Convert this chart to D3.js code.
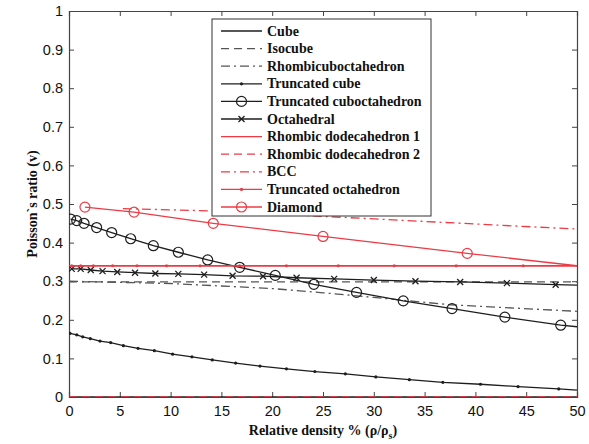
<!DOCTYPE html>
<html><head><meta charset="utf-8">
<script src="https://cdn.jsdelivr.net/npm/d3@7"></script>
<style>body{margin:0;background:#fff}svg{display:block}
.serif{font-family:"Liberation Serif","Times New Roman",Times,serif;font-weight:bold;fill:#111}
.sans{font-family:"Liberation Sans",Arial,Helvetica,sans-serif}
</style>
</head><body>
<svg id="c" width="589" height="444"></svg>
<script>
// ---- data (relative density %, Poisson's ratio) ----
const xTicks = [0,5,10,15,20,25,30,35,40,45,50];
const yTicks = [0,0.1,0.2,0.3,0.4,0.5,0.6,0.7,0.8,0.9,1];
const yTickLabels = ["0","0.1","0.2","0.3","0.4","0.5","0.6","0.7","0.8","0.9","1"];

const cube = [[0,0],[50,0]];
const isocube = [[0,0.298],[50,0.298]];
const rhombicuboctahedron = [[0,0.300],[10,0.294],[20,0.281],[25,0.270],[30,0.258],[37.5,0.239],[50,0.222]];
const truncatedCube = [[0.1,0.165],[0.76,0.161],[1.35,0.156],[2.1,0.151],[3.05,0.145],[4.1,0.141],[5.35,0.133],[6.8,0.126],[8.4,0.120],[10.2,0.111],[12.1,0.104],[14.1,0.096],[16.4,0.088],[18.8,0.080],[21.4,0.073],[24.2,0.066],[27.2,0.060],[30.2,0.052],[33.5,0.045],[36.8,0.038],[40.5,0.033],[44.2,0.027],[48.2,0.021],[50,0.018]];
const truncatedCuboctahedron = [[0.16,0.461],[0.76,0.457],[1.48,0.450],[2.72,0.439],[4.2,0.426],[6.07,0.410],[8.3,0.392],[10.76,0.375],[13.65,0.355],[16.8,0.336],[20.3,0.315],[24.1,0.292],[28.3,0.271],[32.9,0.249],[37.7,0.229],[42.9,0.207],[48.4,0.186],[50,0.182]];
const octahedral = [[0.27,0.332],[1.15,0.332],[2.14,0.329],[3.3,0.326],[4.75,0.324],[6.5,0.322],[8.5,0.320],[10.76,0.319],[13.3,0.317],[16.1,0.314],[19.1,0.313],[22.4,0.309],[26.1,0.306],[30.0,0.303],[34.1,0.300],[38.5,0.298],[43.1,0.295],[47.9,0.291],[50,0.290]];
const rhombicDodecahedron1 = [[0,0.340],[50,0.340]];
const rhombicDodecahedron2 = [[0,0],[50,0]];
const bcc = [[5.3,0.488],[14.2,0.482],[22.7,0.471],[50,0.435]];
const truncatedOctahedron = [[0.27,0.340],[1.15,0.340],[2.4,0.340],[4.3,0.340],[6.7,0.340],[9.6,0.340],[12.9,0.340],[16.8,0.340],[21.4,0.340],[26.5,0.340],[32.0,0.340],[38.1,0.340],[44.7,0.340],[50,0.340]];
const diamond = [[1.57,0.492],[6.4,0.479],[14.2,0.450],[25.0,0.416],[39.2,0.372],[50,0.340]];

const legendNames = ["Cube","Isocube","Rhombicuboctahedron","Truncated cube","Truncated cuboctahedron","Octahedral","Rhombic dodecahedron 1","Rhombic dodecahedron 2","BCC","Truncated octahedron","Diamond"];

// ---- styles ----
const RED = "#ec3b45", BLK = "#1e1e1e", GRY = "#555";
const series = [
  {name:legendNames[0], data:cube, color:BLK, dash:null, marker:null},
  {name:legendNames[1], data:isocube, color:GRY, dash:"8,5", marker:null},
  {name:legendNames[2], data:rhombicuboctahedron, color:GRY, dash:"9,4,2,4", marker:null},
  {name:legendNames[3], data:truncatedCube, color:BLK, dash:null, marker:"dot"},
  {name:legendNames[4], data:truncatedCuboctahedron, color:BLK, dash:null, marker:"circle"},
  {name:legendNames[5], data:octahedral, color:BLK, dash:null, marker:"x"},
  {name:legendNames[6], data:rhombicDodecahedron1, color:RED, dash:null, marker:null},
  {name:legendNames[7], data:rhombicDodecahedron2, color:RED, dash:"8,5", marker:null},
  {name:legendNames[8], data:bcc, color:RED, dash:"9,4,2,4", marker:null},
  {name:legendNames[9], data:truncatedOctahedron, color:RED, dash:null, marker:"dot"},
  {name:legendNames[10], data:diamond, color:RED, dash:null, marker:"circle"}
];

const L=69, R=577, T=11, B=397;
const x = d3.scaleLinear().domain([0,50]).range([L,R]);
const y = d3.scaleLinear().domain([0,1]).range([B,T]);
const svg = d3.select("#c");

svg.append("clipPath").attr("id","clip").append("rect").attr("x",L).attr("y",T-6).attr("width",R-L).attr("height",B-T+6);

// axes (ticks inward)
const axB = svg.append("g").attr("transform",`translate(0,${B})`)
  .call(d3.axisBottom(x).tickValues(xTicks).tickSize(-5).tickPadding(9).tickFormat(d3.format("d")));
const axT = svg.append("g").attr("transform",`translate(0,${T})`)
  .call(d3.axisTop(x).tickValues(xTicks).tickSize(-5).tickFormat(""));
const axL = svg.append("g").attr("transform",`translate(${L},0)`)
  .call(d3.axisLeft(y).tickValues(yTicks).tickSize(-5).tickPadding(6).tickFormat((d,i)=>yTickLabels[i]));
const axR = svg.append("g").attr("transform",`translate(${R},0)`)
  .call(d3.axisRight(y).tickValues(yTicks).tickSize(-5).tickFormat(""));
[axB,axT,axL,axR].forEach(g=>{
  g.attr("font-family",null).attr("font-size",null);
  g.select(".domain").attr("stroke","#444").attr("stroke-width",1.2);
  g.selectAll(".tick line").attr("stroke","#444").attr("stroke-width",1);
  g.selectAll("text").attr("class","sans").style("font-size","14.5px").attr("fill","#111");
});

// lines
const line = d3.line().x(d=>x(d[0])).y(d=>y(d[1]));
const plot = svg.append("g").attr("clip-path","url(#clip)");
function drawMarker(g, m, cx, cy, color){
  if(m==="circle") g.append("circle").attr("cx",cx).attr("cy",cy).attr("r",5).attr("fill","none").attr("stroke",color).attr("stroke-width",1.2);
  else if(m==="dot") g.append("circle").attr("cx",cx).attr("cy",cy).attr("r",1.6).attr("fill",color);
  else if(m==="x") g.append("path").attr("d",`M${cx-3},${cy-3}L${cx+3},${cy+3}M${cx-3},${cy+3}L${cx+3},${cy-3}`).attr("stroke",color).attr("stroke-width",1.3);
}
series.forEach(s=>{
  plot.append("path").datum(s.data).attr("d",line).attr("fill","none")
    .attr("stroke",s.color).attr("stroke-width",1.3).attr("stroke-dasharray",s.dash);
  if(s.marker){
    s.data.filter(d=>d[0]<50).forEach(d=>drawMarker(plot,s.marker,x(d[0]),y(d[1]),s.color));
  }
});

// legend
const lg = svg.append("g");
lg.append("rect").attr("x",212).attr("y",19).attr("width",219).attr("height",197).attr("fill","#fff").attr("stroke","#333").attr("stroke-width",1);
series.forEach((s,i)=>{
  const yy = 31 + i*17.6;
  lg.append("line").attr("x1",221).attr("x2",262).attr("y1",yy).attr("y2",yy)
    .attr("stroke",s.color).attr("stroke-width",1.3).attr("stroke-dasharray",s.dash);
  if(s.marker) drawMarker(lg,s.marker,241.5,yy,s.color);
  lg.append("text").attr("class","serif").attr("x",267).attr("y",yy+4.5).style("font-size","14px").text(s.name);
});

// axis titles
const xt = svg.append("text").attr("class","serif").attr("x",(L+R)/2).attr("y",435).attr("text-anchor","middle").style("font-size","14px");
xt.append("tspan").text("Relative density % (ρ/ρ");
xt.append("tspan").attr("dy",4).style("font-size","10px").text("s");
xt.append("tspan").attr("dy",-4).text(")");
svg.append("text").attr("class","serif").attr("transform",`translate(37,${(T+B)/2}) rotate(-90)`).attr("text-anchor","middle").style("font-size","14px")
  .text("Poisson`s ratio (v)");
</script>
</body></html>
